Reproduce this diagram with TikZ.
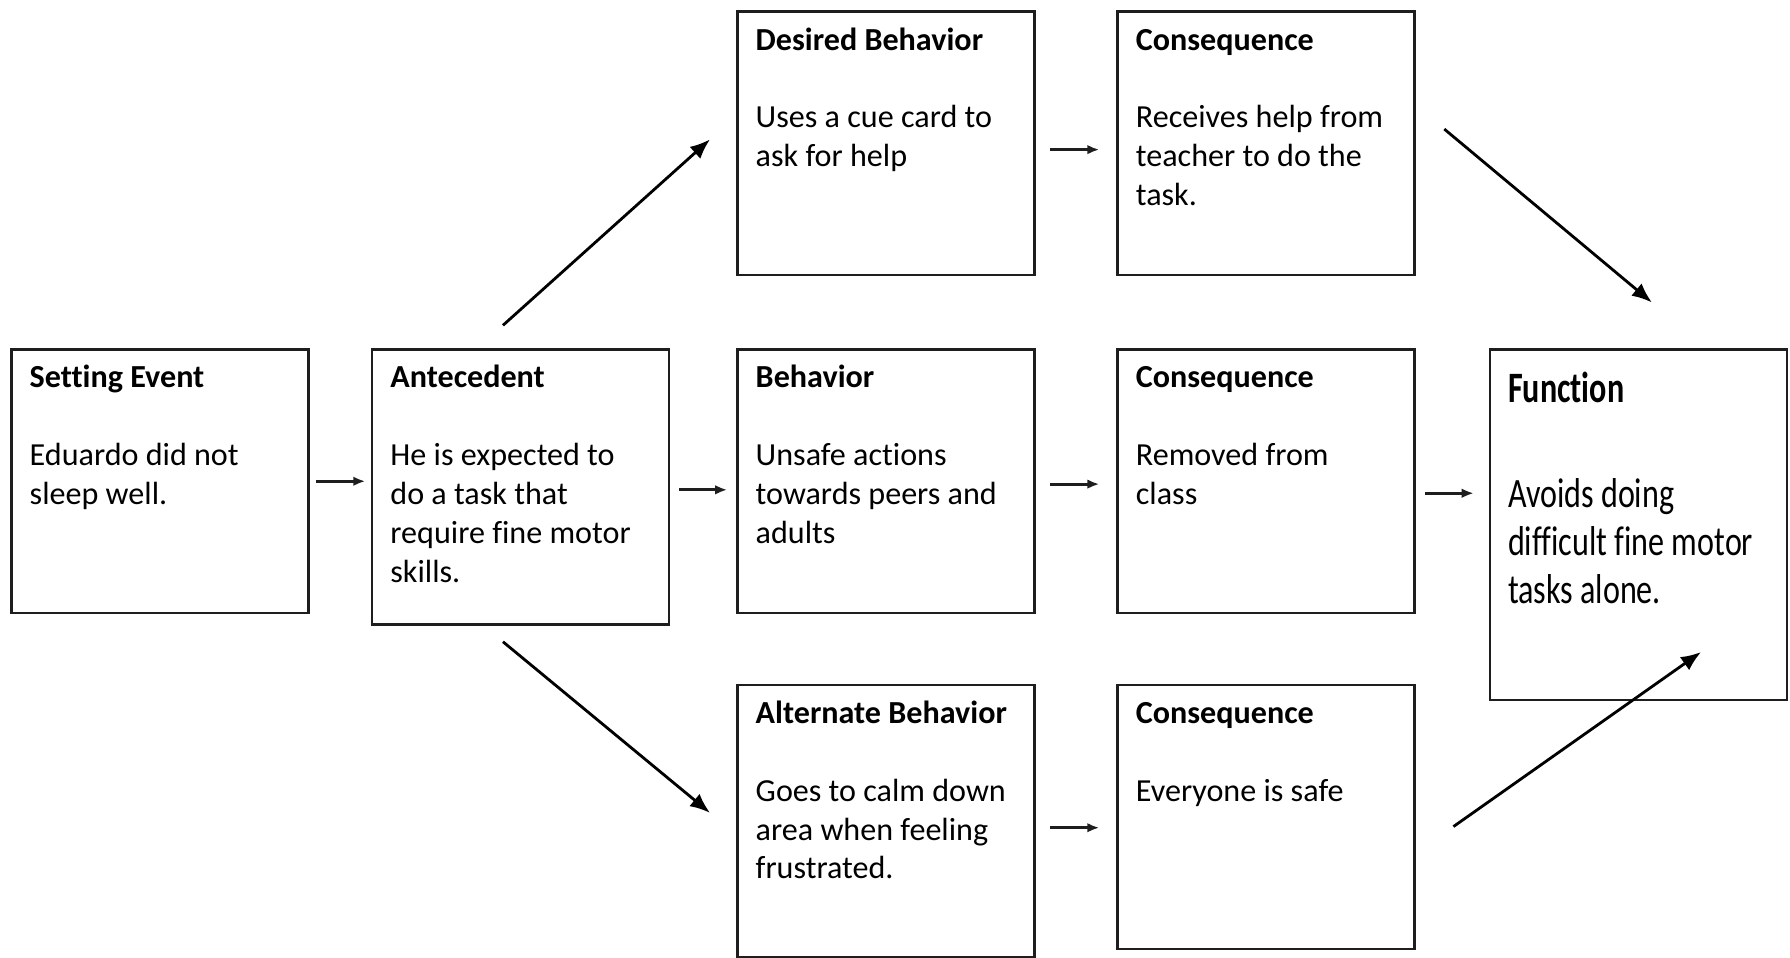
\documentclass[tikz,border=0pt]{standalone}
\usepackage{fontspec}
\setmainfont{Carlito}[Ligatures=NoCommon]
\usepackage{graphicx}
\usetikzlibrary{arrows.meta, positioning}
\definecolor{linegray}{RGB}{30,30,30}

% text of one box: height, title, body lines
\newcommand{\boxtext}[3]{\parbox[t][#1][t]{2.28cm}{\raggedright
  \fontsize{8pt}{0.34cm}\selectfont\strut\textbf{#2}\\[0.34cm]#3}}

\begin{document}
\begin{tikzpicture}[
  x=0.01cm, y=-0.01cm,
  box/.style={draw=linegray, line width=0.6pt, anchor=north west,
              inner xsep=0.16cm, inner ysep=0.1cm, outer sep=0pt},
  arr/.style={draw=linegray, line width=0.7pt, -{Latex[length=3pt,width=2.4pt]}},
  bigarr/.style={draw=black, line width=0.7pt, -{Latex[length=5pt,width=4pt]}},
]
\useasboundingbox (0,0) rectangle (1568,839);

\node[box] (se)  at (10,306)  {\boxtext{2.11cm}{Setting Event}{Eduardo did not\\sleep well.}};
\node[box] (ant) at (326,306) {\boxtext{2.21cm}{Antecedent}{He is expected to\\do a task that\\require fine motor\\skills.}};
\node[box] (db)  at (646,10)  {\boxtext{2.11cm}{Desired Behavior}{Uses a cue card to\\ask for help}};
\node[box] (ct)  at (979,10)  {\boxtext{2.11cm}{Consequence}{Receives help from\\teacher to do the\\task.}};
\node[box] (beh) at (646,306) {\boxtext{2.11cm}{Behavior}{Unsafe actions\\towards peers and\\adults}};
\node[box] (cm)  at (979,306) {\boxtext{2.11cm}{Consequence}{Removed from\\class}};
\node[box] (alt) at (646,600) {\boxtext{2.18cm}{Alternate Behavior}{Goes to calm down\\area when feeling\\frustrated.}};
\node[box] (cb)  at (979,600) {\boxtext{2.11cm}{Consequence}{Everyone is safe}};
\node[box] (fn)  at (1305,306) {\parbox[t][2.87cm][t]{2.28cm}{\raggedright
  \fontsize{8pt}{0.42cm}\selectfont\lineskiplimit=-1cm
  \strut\raisebox{-0.07cm}[0pt][0pt]{\scalebox{1}[1.35]{\textbf{Function}}}\\[0.57cm]
  \scalebox{1}[1.3]{Avoids doing}\\
  \scalebox{1}[1.3]{difficult fine motor}\\
  \scalebox{1}[1.3]{tasks alone.}}};

% short arrows
\draw[arr, shorten <=0.07cm, shorten >=0.06cm] (se.east) -- (se.east -| ant.west);
\draw[arr, shorten <=0.09cm, shorten >=0.09cm] ([yshift=-0.025cm]ant.east) -- ([yshift=-0.025cm]ant.east -| beh.west);
\draw[arr, shorten <=0.14cm, shorten >=0.16cm] ([yshift=-0.025cm]beh.east) -- ([yshift=-0.025cm]cm.west);
\draw[arr, shorten <=0.09cm, shorten >=0.14cm] ([yshift=-0.105cm]cm.east) -- ([yshift=-0.105cm]cm.east -| fn.west);
\draw[arr, shorten <=0.14cm, shorten >=0.16cm] ([yshift=-0.055cm]db.east) -- ([yshift=-0.055cm]ct.west);
\draw[arr, shorten <=0.14cm, shorten >=0.16cm] ([yshift=-0.06cm]alt.east) -- ([yshift=-0.06cm]alt.east -| cb.west);

% long arrows
\draw[bigarr] ([xshift=-0.155cm,yshift=0.21cm]ant.north) -- ([xshift=-0.24cm,yshift=0.035cm]db.west);
\draw[bigarr] ([xshift=-0.155cm,yshift=-0.15cm]ant.south) -- ([xshift=-0.24cm,yshift=0.07cm]alt.west);
\draw[bigarr] ([xshift=0.26cm,yshift=0.125cm]ct.east) -- ([xshift=0.12cm,yshift=0.41cm]fn.north);
\draw[bigarr] ([xshift=0.34cm,yshift=-0.085cm]cb.east) -- ([xshift=0.55cm,yshift=0.42cm]fn.south);

\end{tikzpicture}
\end{document}
